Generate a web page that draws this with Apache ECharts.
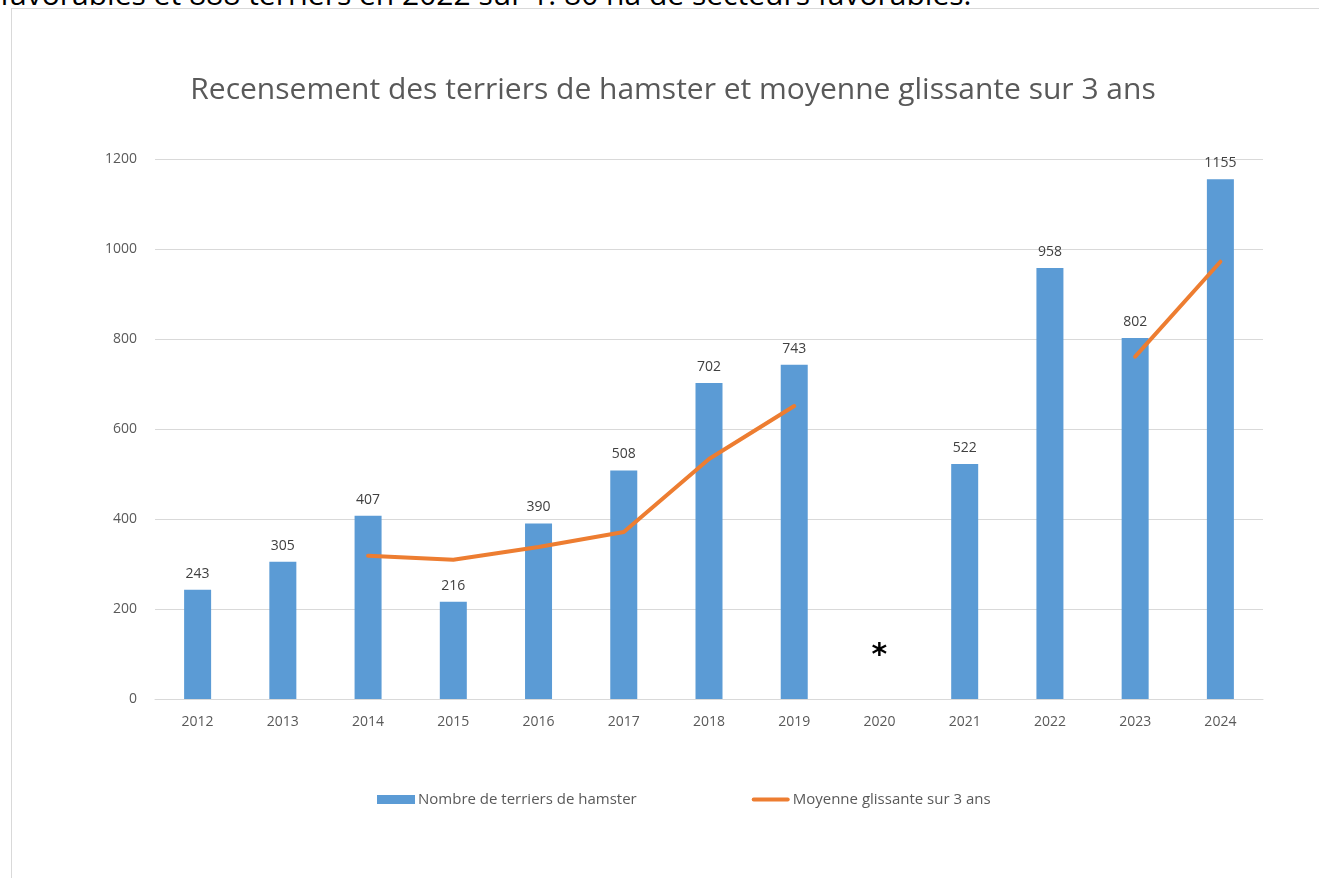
<!DOCTYPE html>
<html>
<head>
<meta charset="utf-8">
<script src="https://cdn.jsdelivr.net/npm/echarts@6/dist/echarts.min.js"></script>
<style>
  html, body { margin: 0; padding: 0; background: #fff; overflow: hidden; }
  #top-line { position: absolute; left: 0; top: -27px; font: 30px "Open Sans", sans-serif; color: #000; white-space: nowrap; }
  #frame { position: absolute; left: 11px; top: 8px; width: 1400px; height: 900px; border: 1px solid #d9d9d9; background: #fff; }
  #chart { position: absolute; left: 0; top: 0; width: 1319px; height: 878px; }
</style>
</head>
<body>
<div id="top-line">favorables et 888 terriers en 2022 sur 1. 80 ha de secteurs favorables.</div>
<div id="frame"></div>
<div id="chart"></div>
<script>
const years = ["2012", "2013", "2014", "2015", "2016", "2017", "2018", "2019", "2020", "2021", "2022", "2023", "2024"];
const burrows = [243, 305, 407, 216, 390, 508, 702, 743, null, 522, 958, 802, 1155];
const rolling_avg = [null, null, 318.3, 309.3, 337.7, 371.3, 533.3, 651, null, null, null, 760.7, 971.7];
const y_ticks = [0, 200, 400, 600, 800, 1000, 1200];

const grey_text = "#595959";
const font = "'Open Sans', sans-serif";
const orange = "#ed7d31";

function createEChart(element){
  return echarts.init(element, null, { renderer: 'canvas' });
}

function hamsterPlot(){
  return {
    animation: false,
    title: {
      text: "Recensement des terriers de hamster et moyenne glissante sur 3 ans",
      left: 668, top: 70, textAlign: "center",
      textStyle: {fontFamily: font, fontSize: 30, fontWeight: "normal", color: grey_text}
    },
    legend: {
      top: 787, left: 372, itemGap: 115, itemWidth: 38, itemHeight: 9,
      textStyle: {fontFamily: font, fontSize: 15, color: grey_text, padding: [0, 0, 0, -2]},
      data: [
        {name: "Nombre de terriers de hamster", icon: "rect"},
        {
          name: "Moyenne glissante sur 3 ans",
          icon: "path://M2,0 h34 a2,2 0 0 1 0,4 h-34 a2,2 0 0 1 0,-4 z",
          itemStyle: {color: orange},
          lineStyle: {color: orange, width: 4, cap: "round"}
        }
      ]
    },
    grid: {left: 155, right: 56, top: 159, bottom: 179},
    xAxis: {
      type: "category", data: years,
      axisLine: {lineStyle: {color: "#d9d9d9", width: 1}},
      axisTick: {show: false},
      axisLabel: {fontFamily: font, fontSize: 14, color: grey_text, margin: 16}
    },
    yAxis: {
      type: "value", min: y_ticks[0], max: y_ticks[y_ticks.length - 1], interval: 200,
      axisLine: {show: false}, axisTick: {show: false},
      splitLine: {lineStyle: {color: "#d9d9d9", width: 1}},
      axisLabel: {fontFamily: font, fontSize: 14, color: grey_text, margin: 18, formatter: (v) => String(v)}
    },
    series: [
      {
        name: "Nombre de terriers de hamster",
        type: "bar", data: burrows, barWidth: 27,
        itemStyle: {color: "#5b9bd5"},
        label: {show: true, position: "top", distance: 9, fontFamily: font, fontSize: 14, color: "#404040"},
        markPoint: {
          symbol: "circle", symbolSize: 0,
          label: {show: true, formatter: "*", fontFamily: "'DejaVu Sans', sans-serif", fontSize: 30, fontWeight: "bold", color: "#000", offset: [0, 2]},
          data: [{coord: ["2020", 100], value: "*"}]
        }
      },
      {
        name: "Moyenne glissante sur 3 ans",
        type: "line", data: rolling_avg, connectNulls: false,
        symbol: "none", lineStyle: {color: orange, width: 4, cap: "round"},
        itemStyle: {color: orange}
      }
    ]
  };
}

const plot = createEChart(document.getElementById("chart"));
plot.setOption(hamsterPlot());
</script>
</body>
</html>
